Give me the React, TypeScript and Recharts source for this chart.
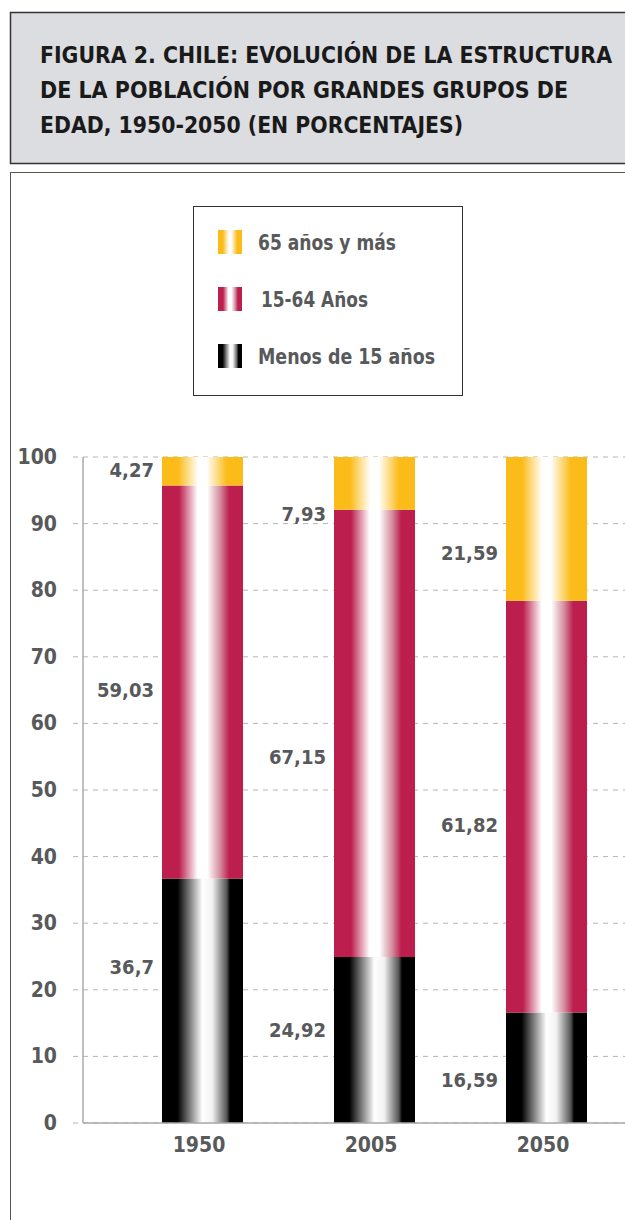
import { BarChart, Bar, XAxis, YAxis, CartesianGrid, LabelList } from 'recharts';

const years = ['1950', '2005', '2050'];
const menos15 = [36.7, 24.92, 16.59];
const de15a64 = [59.03, 67.15, 61.82];
const mas65 = [4.27, 7.93, 21.59];
const yTicks = [0, 10, 20, 30, 40, 50, 60, 70, 80, 90, 100];
const titleLines = [
  'FIGURA 2. CHILE: EVOLUCIÓN DE LA ESTRUCTURA',
  'DE LA POBLACIÓN POR GRANDES GRUPOS DE',
  'EDAD, 1950-2050 (EN PORCENTAJES)',
];

const seriesList = [
  { key: 'menos15', name: 'Menos de 15 años', grad: 'gBlack' },
  { key: 'de15a64', name: '15-64 Años', grad: 'gRed' },
  { key: 'mas65', name: '65 años y más', grad: 'gYellow' },
];

const chartData = years.map((year, i) => ({
  year,
  menos15: menos15[i],
  de15a64: de15a64[i],
  mas65: mas65[i],
}));

// label nudges so they sit where the original placed them
const LABEL_DY: Record<string, number[]> = {
  menos15: [-34, -10, 12],
  de15a64: [8, 24, 18],
  mas65: [-1, 31, 24],
};
const TITLE_WIDTHS = [572, 528, 423];
const LEGEND_WIDTHS: Record<string, number> = { mas65: 138, de15a64: 107, menos15: 177 };

const FONT = "'DejaVu Sans', sans-serif";
const COND = { fontStretch: 'condensed' as const };
const GRAY_TEXT = '#58595b';

function Gradients() {
  return (
    <defs>
      <linearGradient id="gYellow" x1="0" y1="0" x2="1" y2="0">
        <stop offset="0%" stopColor="#fbbc19" />
        <stop offset="20%" stopColor="#fbbc19" />
        <stop offset="45%" stopColor="#ffffff" />
        <stop offset="55%" stopColor="#ffffff" />
        <stop offset="80%" stopColor="#fbbc19" />
        <stop offset="100%" stopColor="#fbbc19" />
      </linearGradient>
      <linearGradient id="gRed" x1="0" y1="0" x2="1" y2="0">
        <stop offset="0%" stopColor="#bc1e4d" />
        <stop offset="21%" stopColor="#bc1e4d" />
        <stop offset="44%" stopColor="#ffffff" />
        <stop offset="56%" stopColor="#ffffff" />
        <stop offset="72%" stopColor="#d48a9c" />
        <stop offset="83%" stopColor="#bc1e4d" />
        <stop offset="100%" stopColor="#bc1e4d" />
      </linearGradient>
      <linearGradient id="gBlack" x1="0" y1="0" x2="1" y2="0">
        <stop offset="0%" stopColor="#000000" />
        <stop offset="19%" stopColor="#000000" />
        <stop offset="50%" stopColor="#ffffff" />
        <stop offset="62%" stopColor="#f2f2f2" />
        <stop offset="80%" stopColor="#555555" />
        <stop offset="84%" stopColor="#000000" />
        <stop offset="100%" stopColor="#000000" />
      </linearGradient>
    </defs>
  );
}

function makeLabel(key: string) {
  return (props: any) => {
    const { x, y, height, value, index } = props;
    const dy = LABEL_DY[key][index] || 0;
    return (
      <text
        x={x - 8}
        y={y + height / 2 + dy}
        textAnchor="end"
        dominantBaseline="central"
        fontFamily={FONT}
        fontWeight="bold"
        fontSize={20}
        style={COND}
        fill={GRAY_TEXT}
      >
        {String(value).replace('.', ',')}
      </text>
    );
  };
}

function YTick(props: any) {
  const { x, y, payload } = props;
  return (
    <text
      x={x}
      y={y}
      textAnchor="end"
      dominantBaseline="central"
      fontFamily={FONT}
      fontWeight="bold"
      fontSize={21}
      style={COND}
      fill={GRAY_TEXT}
    >
      {payload.value}
    </text>
  );
}

function XTick(props: any) {
  const { x, y, payload } = props;
  return (
    <text
      x={x - 3}
      y={y + 21}
      textAnchor="middle"
      fontFamily={FONT}
      fontWeight="bold"
      fontSize={21}
      style={COND}
      fill={GRAY_TEXT}
    >
      {payload.value}
    </text>
  );
}

function Legenda() {
  const items = [...seriesList].reverse();
  return (
    <svg
      width={270}
      height={190}
      style={{ position: 'absolute', left: 193, top: 206 }}
    >
      <Gradients />
      <rect x={0.5} y={0.5} width={269} height={189} fill="#fff" stroke="#333" />
      {items.map((s, i) => {
        const top = 24 + i * 57;
        return (
          <g key={s.key}>
            <rect x={25} y={top} width={24} height={24} fill={`url(#${s.grad})`} />
            <text
              x={s.key === 'de15a64' ? 68 : 65}
              y={top + 20}
              fontFamily={FONT}
              fontWeight="bold"
              fontSize={21}
              style={COND}
              fill={GRAY_TEXT}
              textLength={LEGEND_WIDTHS[s.key]}
              lengthAdjust="spacingAndGlyphs"
            >
              {s.name}
            </text>
          </g>
        );
      })}
    </svg>
  );
}

export default function App() {
  return (
    <div
      style={{
        position: 'absolute',
        left: 0,
        top: 0,
        width: 625,
        height: 1220,
        overflow: 'hidden',
        background: '#fff',
      }}
    >
      <svg width={625} height={170} style={{ position: 'absolute', left: 0, top: 0 }}>
        <rect x={10.5} y={12.5} width={640} height={151} fill="#dcdde0" stroke="#333" strokeWidth={1.5} />
        {titleLines.map((line, i) => (
          <text
            key={i}
            x={40}
            y={63 + i * 35}
            fontFamily={FONT}
            fontWeight="bold"
            fontSize={23}
            style={COND}
            fill="#1a1a1a"
            textLength={TITLE_WIDTHS[i]}
            lengthAdjust="spacingAndGlyphs"
          >
            {line}
          </text>
        ))}
      </svg>

      <div
        style={{
          position: 'absolute',
          left: 10,
          top: 172,
          width: 640,
          height: 1100,
          border: '1px solid #555',
        }}
      />

      <div style={{ position: 'absolute', left: 0, top: 420 }}>
        <BarChart
          width={640}
          height={760}
          data={chartData}
          margin={{ top: 37, right: 8, bottom: 0, left: 0 }}
          barSize={81}
        >
          <Gradients />
          <CartesianGrid vertical={false} stroke="#b5b5b5" strokeDasharray="5 5" />
          <XAxis
            dataKey="year"
            height={57}
            padding={{ left: 33, right: 0 }}
            axisLine={{ stroke: '#aaaaaa', strokeWidth: 1.5 }}
            tickLine={false}
            tick={<XTick />}
          />
          <YAxis
            width={83}
            domain={[0, 100]}
            ticks={yTicks}
            interval={0}
            axisLine={{ stroke: '#aaaaaa', strokeWidth: 1.5 }}
            tickLine={{ stroke: '#b5b5b5', strokeDasharray: '5 5' }}
            tickSize={10}
            tickMargin={16}
            tick={<YTick />}
          />
          {seriesList.map((s) => (
            <Bar
              key={s.key}
              dataKey={s.key}
              name={s.name}
              stackId="a"
              fill={`url(#${s.grad})`}
              isAnimationActive={false}
            >
              <LabelList dataKey={s.key} content={makeLabel(s.key)} />
            </Bar>
          ))}
        </BarChart>
      </div>

      <Legenda />
    </div>
  );
}
